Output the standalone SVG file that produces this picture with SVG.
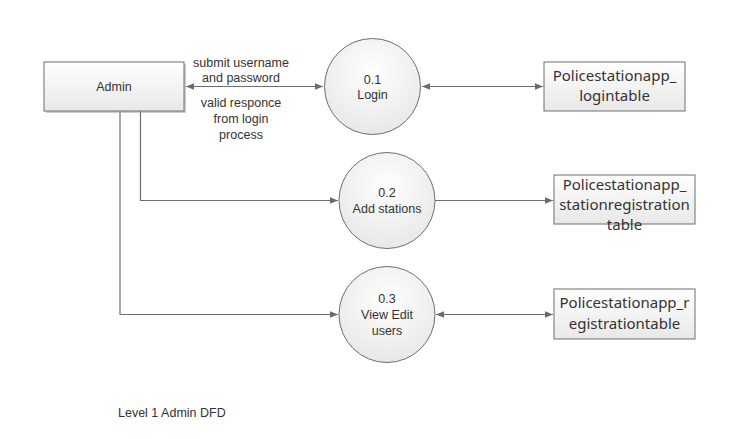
<svg xmlns="http://www.w3.org/2000/svg" width="732" height="439" viewBox="0 0 732 439">
<defs>
<linearGradient id="g" x1="0" y1="0" x2="0" y2="1">
<stop offset="0" stop-color="#ffffff"/>
<stop offset="1" stop-color="#e8e8e8"/>
</linearGradient>
<radialGradient id="cg" cx="0.5" cy="0.35" r="0.7">
<stop offset="0" stop-color="#ffffff"/>
<stop offset="1" stop-color="#e6e6e6"/>
</radialGradient>
<marker id="ah" viewBox="0 0 10 10" refX="10" refY="5" markerWidth="8" markerHeight="8" markerUnits="userSpaceOnUse" orient="auto-start-reverse">
<path d="M0,1 L10,5 L0,9 z" fill="#6b6b6b"/>
</marker>
</defs>
<style>
.box{fill:url(#g);stroke:#6e6e6e;stroke-width:1}
.circ{fill:url(#cg);stroke:#6e6e6e;stroke-width:1}
.ln{fill:none;stroke:#6e6e6e;stroke-width:1.2}
.t{font-family:"Liberation Sans",Arial,sans-serif;font-size:12.5px;fill:#333;text-anchor:middle}
.tt{font-family:"Noto Sans","Liberation Sans",sans-serif;font-size:15px;fill:#333;text-anchor:middle}
</style>
<rect width="732" height="439" fill="#ffffff"/>
<g id="connectors">
<line class="ln" x1="186" y1="86.5" x2="323" y2="86.5" marker-start="url(#ah)" marker-end="url(#ah)"/>
<line class="ln" x1="422" y1="86.5" x2="543" y2="86.5" marker-start="url(#ah)" marker-end="url(#ah)"/>
<polyline class="ln" points="140.5,111 140.5,200.5 338,200.5" marker-end="url(#ah)"/>
<polyline class="ln" points="120,111 120,314.5 338,314.5" marker-end="url(#ah)"/>
<line class="ln" x1="435" y1="200.5" x2="553" y2="200.5" marker-end="url(#ah)"/>
<line class="ln" x1="436" y1="314.5" x2="553" y2="314.5" marker-start="url(#ah)" marker-end="url(#ah)"/>
<text class="t" x="241" y="67">submit username</text>
<text class="t" x="241" y="82">and password</text>
<text class="t" x="241" y="107">valid responce</text>
<text class="t" x="241" y="123">from login</text>
<text class="t" x="241" y="139">process</text>
</g>
<g id="admin">
<rect x="46" y="64" width="140" height="49" fill="#9a9a9a" opacity="0.5"/>
<rect class="box" x="44" y="62" width="140" height="49"/>
<text class="t" x="114" y="91">Admin</text>
</g>
<g id="p01">
<circle class="circ" cx="372.5" cy="86.5" r="48"/>
<text class="t" x="372.5" y="84">0.1</text>
<text class="t" x="372.5" y="99">Login</text>
</g>
<g id="p02">
<circle class="circ" cx="387" cy="200.5" r="48"/>
<text class="t" x="387" y="197">0.2</text>
<text class="t" x="387" y="213">Add stations</text>
</g>
<g id="p03">
<circle class="circ" cx="387" cy="314.5" r="48"/>
<text class="t" x="387" y="303">0.3</text>
<text class="t" x="387" y="319">View Edit</text>
<text class="t" x="387" y="335">users</text>
</g>
<g id="d1">
<rect class="box" x="544" y="62" width="141" height="49"/>
<text class="tt" x="614.5" y="81">Policestationapp_</text>
<text class="tt" x="614.5" y="101">logintable</text>
</g>
<g id="d2">
<rect class="box" x="554" y="175" width="141" height="49"/>
<text class="tt" x="624.5" y="190">Policestationapp_</text>
<text class="tt" x="624.5" y="210">stationregistration</text>
<text class="tt" x="624.5" y="230">table</text>
</g>
<g id="d3">
<rect class="box" x="554" y="289" width="141" height="50"/>
<text class="tt" x="624.5" y="308">Policestationapp_r</text>
<text class="tt" x="624.5" y="329">egistrationtable</text>
</g>
<text class="t" x="118" y="417" style="text-anchor:start">Level 1 Admin DFD</text>
</svg>
